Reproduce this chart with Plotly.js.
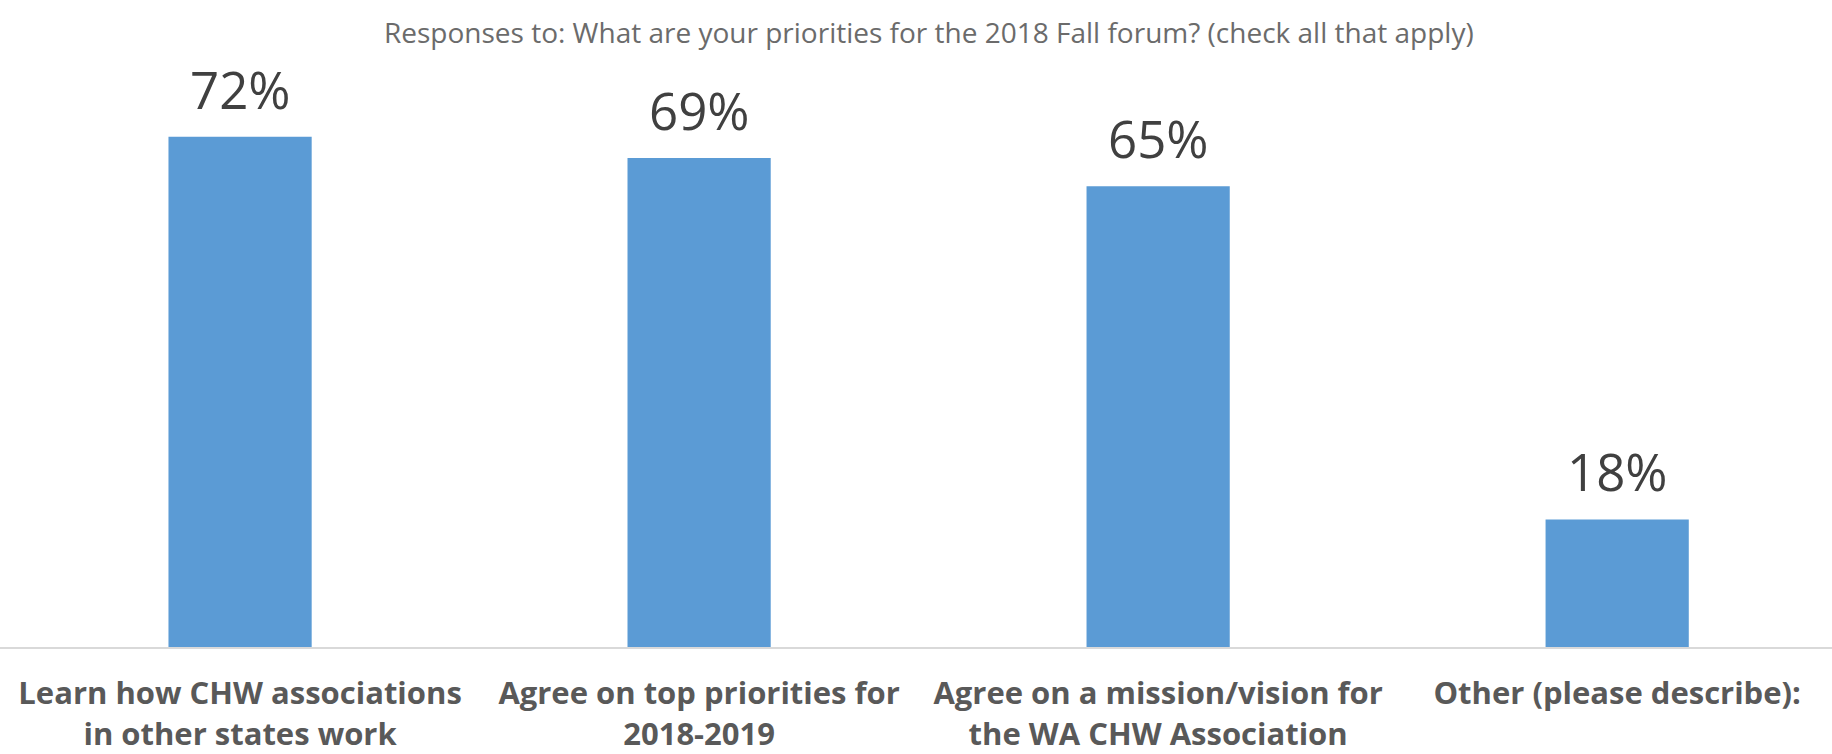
<!DOCTYPE html>
<html>
<head>
<meta charset="utf-8">
<script src="https://cdn.plot.ly/plotly-3.0.1.min.js"></script>
<style>html,body{margin:0;padding:0;background:#fff;}#chart{width:1832px;height:754px;}</style>
</head>
<body>
<div id="chart"></div>
<script>
const categories = [
  "Learn how CHW associations<br>in other states work",
  "Agree on top priorities for<br>2018-2019",
  "Agree on a mission/vision for<br>the WA CHW Association",
  "Other (please describe):<br> "
];
const values = [72, 69, 65, 18];
const labels = ["72%", "69%", "65%", "18%"];
const chartTitle = "Responses to: What are your priorities for the 2018 Fall forum? (check all that apply)";

const xs = categories.map((c, i) => i);

const trace = {
  type: "bar",
  x: xs,
  y: values,
  width: 0.312,
  marker: {color: "#5b9bd5"},
  hoverinfo: "none"
};

const annotations = values.map((v, i) => ({
  x: i, y: v, xref: "x", yref: "y",
  text: labels[i], showarrow: false,
  yanchor: "bottom", yshift: 11,
  font: {family: "Open Sans", size: 51, color: "#404040"}
}));

const layout = {
  width: 1832, height: 754,
  margin: {l: 0, r: 0, t: 80, b: 107},
  paper_bgcolor: "#fff", plot_bgcolor: "#fff",
  showlegend: false,
  title: {
    text: chartTitle,
    x: 0.507, xanchor: "center", xref: "paper",
    y: 1 - 33/754, yanchor: "middle", yref: "container",
    font: {family: "Open Sans", size: 28, color: "#6b6b6b"}
  },
  xaxis: {
    range: [-0.523, 3.468],
    tickmode: "array", tickvals: xs, ticktext: categories,
    showgrid: false, zeroline: false,
    showline: true, linecolor: "#d9d9d9", linewidth: 2,
    ticks: "", ticklabelstandoff: 18,
    tickfont: {family: "Open Sans", size: 31, color: "#595959", weight: "bold"},
    fixedrange: true
  },
  yaxis: {
    range: [0, 80], visible: false, showgrid: false, zeroline: false, fixedrange: true
  },
  annotations: annotations
};

Plotly.newPlot("chart", [trace], layout, {displayModeBar: false, staticPlot: true});
</script>
</body>
</html>
